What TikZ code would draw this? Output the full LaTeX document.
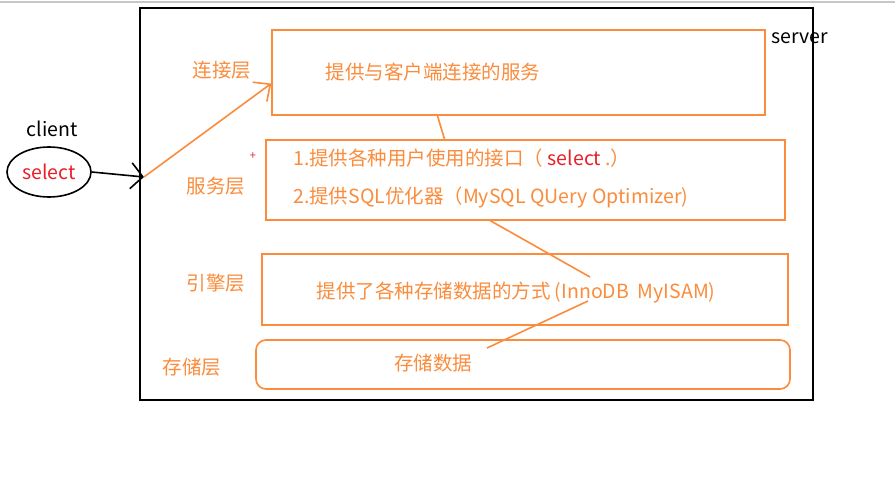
\documentclass[tikz,border=0pt]{standalone}
\usepackage{fontspec}
\setmainfont{Noto Sans CJK SC}
\usetikzlibrary{arrows.meta,shapes.geometric}
\definecolor{layorange}{RGB}{250,140,60}
\definecolor{selred}{RGB}{232,30,40}

\begin{document}
\begin{tikzpicture}[
  x=1pt, y=-1pt,
  font=\fontsize{19.5}{23}\selectfont,
  layer/.style={draw=layorange, line width=1.6pt, inner sep=0pt},
  layname/.style={text=layorange, inner sep=0pt},
  laytext/.style={text=layorange, inner sep=0pt},
  link/.style={draw=layorange, line width=1.6pt},
]
\useasboundingbox (0,0) rectangle (895,479);
\fill[white] (0,0) rectangle (895,479);
\draw[black!22, line width=1.5pt] (0,2) -- (895,2);

% ==================== server frame ====================
\node[draw, line width=1.6pt, minimum width=673pt, minimum height=392pt, inner sep=0pt]
   (server) at (476.5,204) {};
\node[inner sep=0pt] (srvname) at (800,38) {server};

% ==================== layers ====================
\node[layer, minimum width=493pt, minimum height=85pt] (conn) at (518.5,72.5) {};
\node[laytext] (conntxt) at (433,72) {提供与客户端连接的服务};
\node[layname] (connname) at (222,70) {连接层};

\node[layer, minimum width=519pt, minimum height=80pt] (svc) at (525.5,180) {};
\node[laytext, anchor=west] (svc1) at (293,158)
  {1.提供各种用户使用的接口（ {\color{selred}select} .）};
\node[laytext, anchor=west] (svc2) at (293,197)
  {2.提供SQL优化器（MySQL QUery Optimizer)};
\node[layname] (svcname) at (216,186) {服务层};
\node[text=selred, inner sep=0pt, font=\fontsize{11}{12}\selectfont] (plus) at (253,156) {+};

\node[layer, minimum width=526pt, minimum height=71pt] (eng) at (525,289.5) {};
\node[laytext] (engtxt) at (516,293) {提供了各种存储数据的方式 (InnoDB~~MyISAM)};
\node[layname] (engname) at (216,283) {引擎层};

\node[layer, rounded corners=10pt, minimum width=534pt, minimum height=49pt] (store) at (523,364.5) {};
\node[laytext] (storetxt) at (433,363) {存储数据};
\node[layname] (storename) at (192,367) {存储层};

% ==================== client ====================
\node[inner sep=0pt] (clientname) at (52,129) {client};
\node[draw, ellipse, line width=1.6pt, minimum width=84pt, minimum height=50pt, inner sep=0pt,
      text=selred] (client) at (49,172) {select};

% ==================== connectors ====================
\coordinate (entry) at (144,177);
\coordinate (engin) at (590,277);
\coordinate (engout) at (588,301);
\coordinate (storein) at (487,348);

\draw[line width=1.6pt, -{Straight Barb[length=12pt,width=26pt,line width=1.6pt]}]
  (client.east) -- (entry);
\draw[link, -{Straight Barb[length=13pt,width=24pt,line width=1.6pt]}]
  (entry) -- ([yshift=-11pt]conn.west);
\draw[link] ([xshift=-81pt]conn.south) -- ([xshift=-81pt]svc.north);
\draw[link] ([xshift=-35pt]svc.south) -- (engin);
\draw[link] (engout) -- (storein);

\end{tikzpicture}
\end{document}
